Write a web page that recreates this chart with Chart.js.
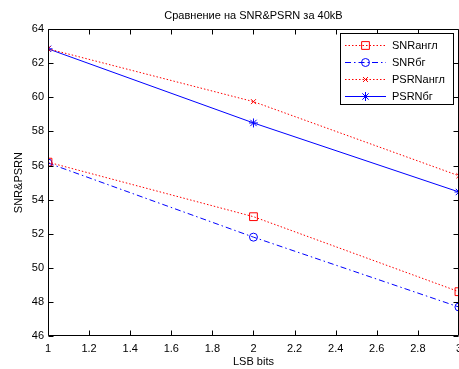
<!DOCTYPE html>
<html>
<head>
<meta charset="utf-8">
<script src="https://cdn.jsdelivr.net/npm/chart.js@4"></script>
<style>
html,body{margin:0;padding:0;background:#fff;overflow:hidden;width:459px;height:369px;}
#wrap{position:absolute;left:0;top:0;width:470px;height:369px;}
canvas{display:block;}
</style>
</head>
<body>
<div id="wrap"><canvas id="c" width="468" height="369"></canvas></div>
<script>
const xValues = [1, 2, 3];
const snrEng = [56.2, 53.0, 48.6];
const snrBg = [56.15, 51.8, 47.7];
const psrnEng = [62.85, 59.75, 55.4];
const psrnBg = [62.85, 58.5, 54.45];
const seriesLabels = ['SNRангл', 'SNRбг', 'PSRNангл', 'PSRNбг'];
const xTickValues = [1, 1.2, 1.4, 1.6, 1.8, 2, 2.2, 2.4, 2.6, 2.8, 3];
const yTickValues = [46, 48, 50, 52, 54, 56, 58, 60, 62, 64];
const titleText = 'Сравнение на SNR&PSRN за 40kB';
const xTitle = 'LSB bits';
const yTitle = 'SNR&PSRN';

const FONT = '"Liberation Sans", Arial, Helvetica, sans-serif';
const pts = arr => xValues.map((x, i) => ({x: x, y: arr[i]}));

const styles = [
  {color: '#ff0000', dash: [1.5, 2], point: 'rect', r: 5.5},
  {color: '#0000ff', dash: [6, 3, 1.5, 3], point: 'circle', r: 4},
  {color: '#ff0000', dash: [1.5, 2], point: 'crossRot', r: 3.5},
  {color: '#0000ff', dash: [], point: 'star', r: 4.5}
];
const series = [snrEng, snrBg, psrnEng, psrnBg];

const datasets = series.map((s, i) => ({
  label: seriesLabels[i],
  data: pts(s),
  borderColor: styles[i].color,
  borderWidth: 1,
  borderDash: styles[i].dash,
  pointStyle: styles[i].point,
  pointRadius: styles[i].r,
  pointBorderColor: styles[i].color,
  pointBackgroundColor: 'rgba(0,0,0,0)',
  pointBorderWidth: 1,
  tension: 0,
  fill: false
}));

const frame = {
  id: 'frame',
  afterDatasetsDraw(chart) {
    const ctx = chart.ctx;
    const a = chart.chartArea;
    const xs = chart.scales.x, ys = chart.scales.y;
    ctx.save();
    ctx.strokeStyle = '#000';
    ctx.lineWidth = 1;
    ctx.setLineDash([]);
    const L = Math.round(a.left) + 0.5, R = Math.round(a.right) - 0.5;
    const T = Math.round(a.top) + 0.5, B = Math.round(a.bottom) - 0.5;
    ctx.beginPath();
    ctx.rect(L, T, R - L, B - T);
    const tl = 5;
    xTickValues.forEach(v => {
      const px = Math.round(xs.getPixelForValue(v)) + 0.5;
      ctx.moveTo(px, B); ctx.lineTo(px, B - tl);
      ctx.moveTo(px, T); ctx.lineTo(px, T + tl);
    });
    yTickValues.forEach(v => {
      const py = Math.round(ys.getPixelForValue(v)) + 0.5;
      ctx.moveTo(L, py); ctx.lineTo(L + tl, py);
      ctx.moveTo(R, py); ctx.lineTo(R - tl, py);
    });
    ctx.stroke();
    ctx.restore();
  },
  afterDraw(chart) {
    const ctx = chart.ctx;
    ctx.save();
    const bx = 340.5, by = 33.5, bw = 113, bh = 71;
    ctx.fillStyle = '#fff';
    ctx.fillRect(bx, by, bw, bh);
    ctx.strokeStyle = '#000';
    ctx.lineWidth = 1;
    ctx.setLineDash([]);
    ctx.strokeRect(bx, by, bw, bh);
    chart.data.datasets.forEach((ds, i) => {
      const y = 45.5 + i * 17;
      ctx.save();
      ctx.strokeStyle = ds.borderColor;
      ctx.fillStyle = 'rgba(0,0,0,0)';
      ctx.lineWidth = 1;
      ctx.setLineDash(ds.borderDash);
      ctx.beginPath();
      ctx.moveTo(345, y); ctx.lineTo(386, y);
      ctx.stroke();
      ctx.setLineDash([]);
      Chart.helpers.drawPoint(ctx, {pointStyle: ds.pointStyle, radius: ds.pointRadius, borderWidth: 1, rotation: 0}, 365.5, y);
      ctx.restore();
      ctx.fillStyle = '#000';
      ctx.font = '11px ' + FONT;
      ctx.textBaseline = 'middle';
      ctx.textAlign = 'left';
      ctx.fillText(ds.label, 392, y + 0.5);
    });
    ctx.restore();
  }
};

new Chart(document.getElementById('c'), {
  type: 'line',
  data: {datasets: datasets},
  options: {
    responsive: false,
    animation: false,
    devicePixelRatio: 1,
    layout: {padding: 0, autoPadding: false},
    plugins: {
      legend: {display: false},
      tooltip: {enabled: false},
      title: {
        display: true,
        fullSize: false,
        text: titleText,
        color: '#000',
        font: {family: FONT, size: 11, weight: 'normal', lineHeight: 1.2},
        padding: {top: 9, bottom: 7}
      }
    },
    scales: {
      x: {
        type: 'linear',
        min: 1, max: 3,
        afterBuildTicks: s => { s.ticks = xTickValues.map(v => ({value: v})); },
        afterFit: s => { s.height = 33; },
        grid: {display: false, drawTicks: false},
        border: {display: false},
        ticks: {color: '#000', font: {family: FONT, size: 11}, padding: 6, maxRotation: 0, autoSkip: false,
          callback: v => String(v)},
        title: {display: true, text: xTitle, color: '#000', font: {family: FONT, size: 11, lineHeight: 1.2}, padding: {top: 0, bottom: 0}}
      },
      y: {
        type: 'linear',
        min: 46, max: 64,
        afterBuildTicks: s => { s.ticks = yTickValues.map(v => ({value: v})); },
        afterFit: s => { s.width = 48; },
        grid: {display: false, drawTicks: false},
        border: {display: false},
        ticks: {color: '#000', font: {family: FONT, size: 11}, padding: 4, autoSkip: false,
          callback: v => String(v)},
        title: {display: true, text: yTitle, color: '#000', font: {family: FONT, size: 11, lineHeight: 1.2}, padding: {top: 12, bottom: 0}}
      }
    }
  },
  plugins: [frame]
});
</script>
</body>
</html>
